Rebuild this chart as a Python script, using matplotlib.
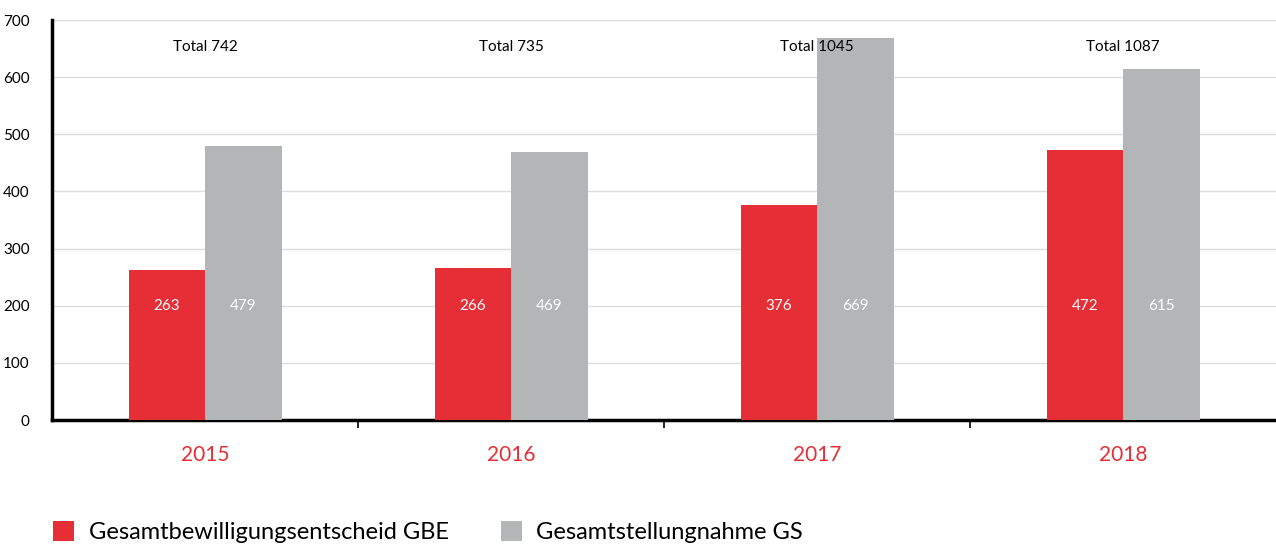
import matplotlib.pyplot as plt
import numpy as np

plt.rcParams['font.family'] = ['Lato', 'DejaVu Sans']

# Daten
jahre = ['2015', '2016', '2017', '2018']
gbe = [263, 266, 376, 472]
gs = [479, 469, 669, 615]
totals = [742, 735, 1045, 1087]

rot = '#e52e36'
grau = '#b4b5b7'

fig = plt.figure(figsize=(12.76, 5.47), dpi=100)
ax = fig.add_axes([0.0408, 0.232, 0.9592, 0.7314])

x = np.arange(len(jahre))
w = 0.25
b1 = ax.bar(x - w / 2, gbe, w, color=rot, label='Gesamtbewilligungsentscheid GBE', zorder=3)
b2 = ax.bar(x + w / 2, gs, w, color=grau, label='Gesamtstellungnahme GS', zorder=3)

# Werte in den Balken
for xi, v in zip(x - w / 2, gbe):
    ax.text(xi, 200, str(v), color='white', ha='center', va='center', fontsize=11, zorder=4)
for xi, v in zip(x + w / 2, gs):
    ax.text(xi, 200, str(v), color='white', ha='center', va='center', fontsize=11, zorder=4)
for xi, t in zip(x, totals):
    ax.text(xi, 653, 'Total %d' % t, color='black', ha='center', va='center', fontsize=11, zorder=4)

ax.set_xlim(-0.5, len(jahre) - 0.5)
ax.set_ylim(0, 700)
ax.set_yticks(range(0, 701, 100))
ax.yaxis.grid(True, color='#dddddd', linewidth=1, zorder=0)
ax.tick_params(axis='y', length=0, labelsize=11, pad=16)

ax.set_xticks(x)
ax.set_xticklabels(jahre, color=rot, fontsize=15)
ax.set_xticks(x[:-1] + 0.5, minor=True)
ax.tick_params(axis='x', which='major', length=0, pad=18)
ax.tick_params(axis='x', which='minor', length=6, width=1.2, color='black', direction='out')

for s in ['top', 'right']:
    ax.spines[s].set_visible(False)
ax.spines['left'].set_linewidth(2.5)
ax.spines['bottom'].set_linewidth(2.5)

fig.legend(handles=[b1, b2], loc='lower left', bbox_to_anchor=(0.025, -0.032), ncol=2,
           frameon=False, fontsize=17, handlelength=0.9, handleheight=0.9,
           handletextpad=0.6, columnspacing=2.2)

fig.savefig('out.png', dpi=100)
